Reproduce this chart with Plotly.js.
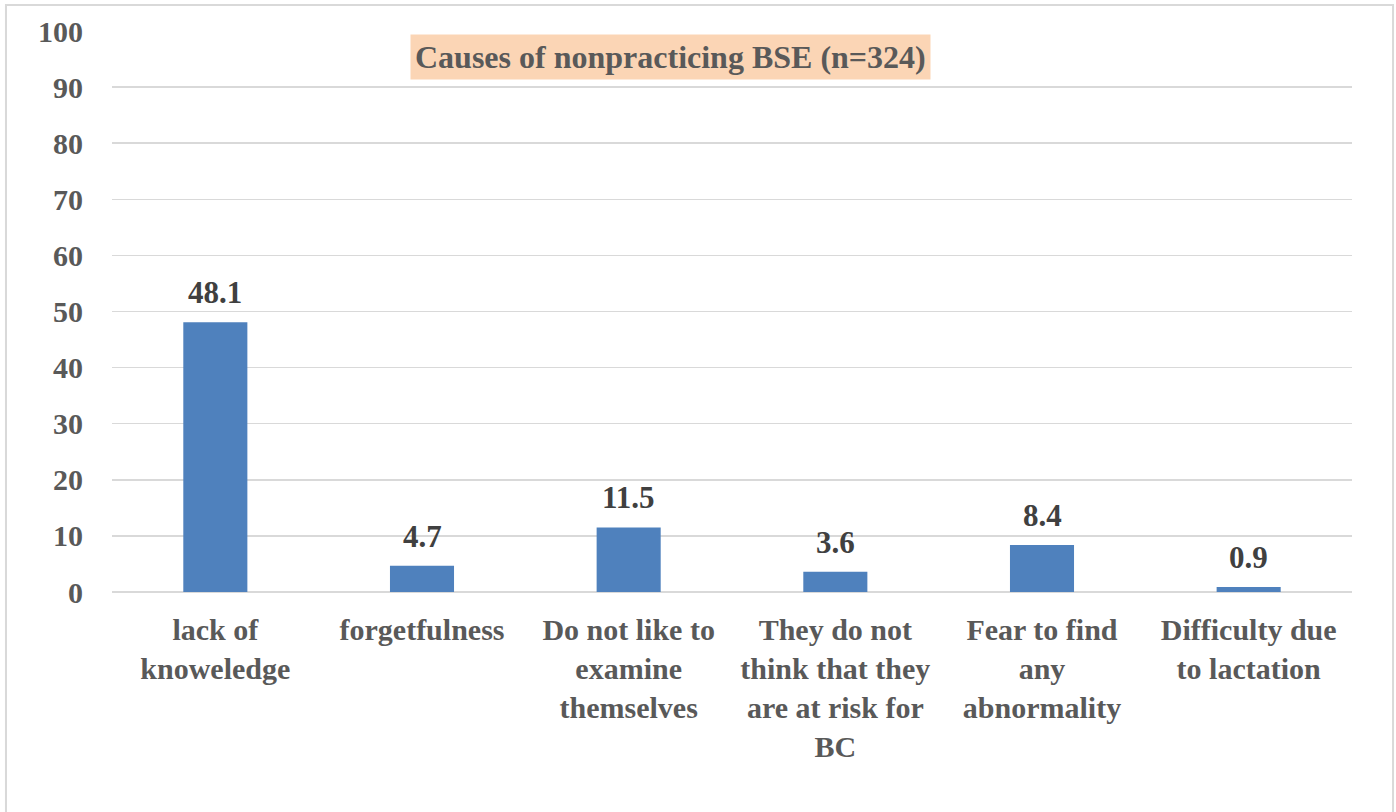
<!DOCTYPE html>
<html>
<head>
<meta charset="utf-8">
<script src="https://cdn.plot.ly/plotly-3.0.1.min.js"></script>
<style>html,body{margin:0;padding:0;background:#fff;}#chart{width:1396px;height:812px;}</style>
</head>
<body>
<div id="chart"></div>
<script>
const categories = ["lack of<br>knoweledge", "forgetfulness", "Do not like to<br>examine<br>themselves", "They do not<br>think that they<br>are at risk for<br>BC", "Fear to find<br>any<br>abnormality", "Difficulty due<br>to lactation"];
const values = [48.1, 4.7, 11.5, 3.6, 8.4, 0.9];
const valueLabels = ["48.1", "4.7", "11.5", "3.6", "8.4", "0.9"];
const yTicks = [0, 10, 20, 30, 40, 50, 60, 70, 80, 90, 100];
const titleText = "Causes of nonpracticing BSE (n=324)";

const font = "'Liberation Serif'";

const trace = {
  type: "bar",
  x: categories,
  y: values,
  marker: {color: "#4F81BD"},
  hoverinfo: "skip"
};

const valueAnnotations = categories.map((c, i) => ({
  x: c, y: values[i], xref: "x", yref: "y",
  text: "<b>" + valueLabels[i] + "</b>",
  showarrow: false, xanchor: "center", yanchor: "bottom", yshift: 10,
  font: {family: font, size: 31, color: "#404040"}
}));

const layout = {
  width: 1396, height: 812,
  margin: {l: 112, r: 44, t: 31, b: 220},
  paper_bgcolor: "#ffffff",
  plot_bgcolor: "#ffffff",
  showlegend: false,
  bargap: 0.69,
  font: {family: font, color: "#595959"},
  xaxis: {
    type: "category",
    tickfont: {family: font, size: 30, color: "#595959"},
    tickprefix: "<b>", ticksuffix: "</b>",
    showline: false, showgrid: false, ticks: "", ticklen: 0,
    ticklabelstandoff: 17
  },
  yaxis: {
    range: [0, 100],
    tickvals: yTicks,
    ticktext: yTicks.map(v => "<b>" + v + "</b>"),
    tickfont: {family: font, size: 30, color: "#595959"},
    showgrid: true, gridcolor: "#d9d9d9", gridwidth: 1.5,
    zeroline: true, zerolinecolor: "#d9d9d9", zerolinewidth: 2,
    showline: false, ticks: "", ticklabelstandoff: 28
  },
  annotations: [{
    text: "<b>" + titleText + "</b>",
    xref: "paper", yref: "paper",
    x: 0.4508, y: 0.9545, xanchor: "center", yanchor: "middle",
    showarrow: false,
    font: {family: font, size: 32, color: "#595959"},
    bgcolor: "#FBD5B5",
    borderpad: 4
  }].concat(valueAnnotations),
  shapes: [{
    type: "rect", xref: "paper", yref: "paper",
    x0: -0.0855, x1: 1.0331, y0: -0.40, y1: 1.0463,
    line: {color: "#d9d9d9", width: 2},
    fillcolor: "rgba(0,0,0,0)", layer: "below"
  }]
};

Plotly.newPlot("chart", [trace], layout, {displayModeBar: false, staticPlot: true});
</script>
</body>
</html>
